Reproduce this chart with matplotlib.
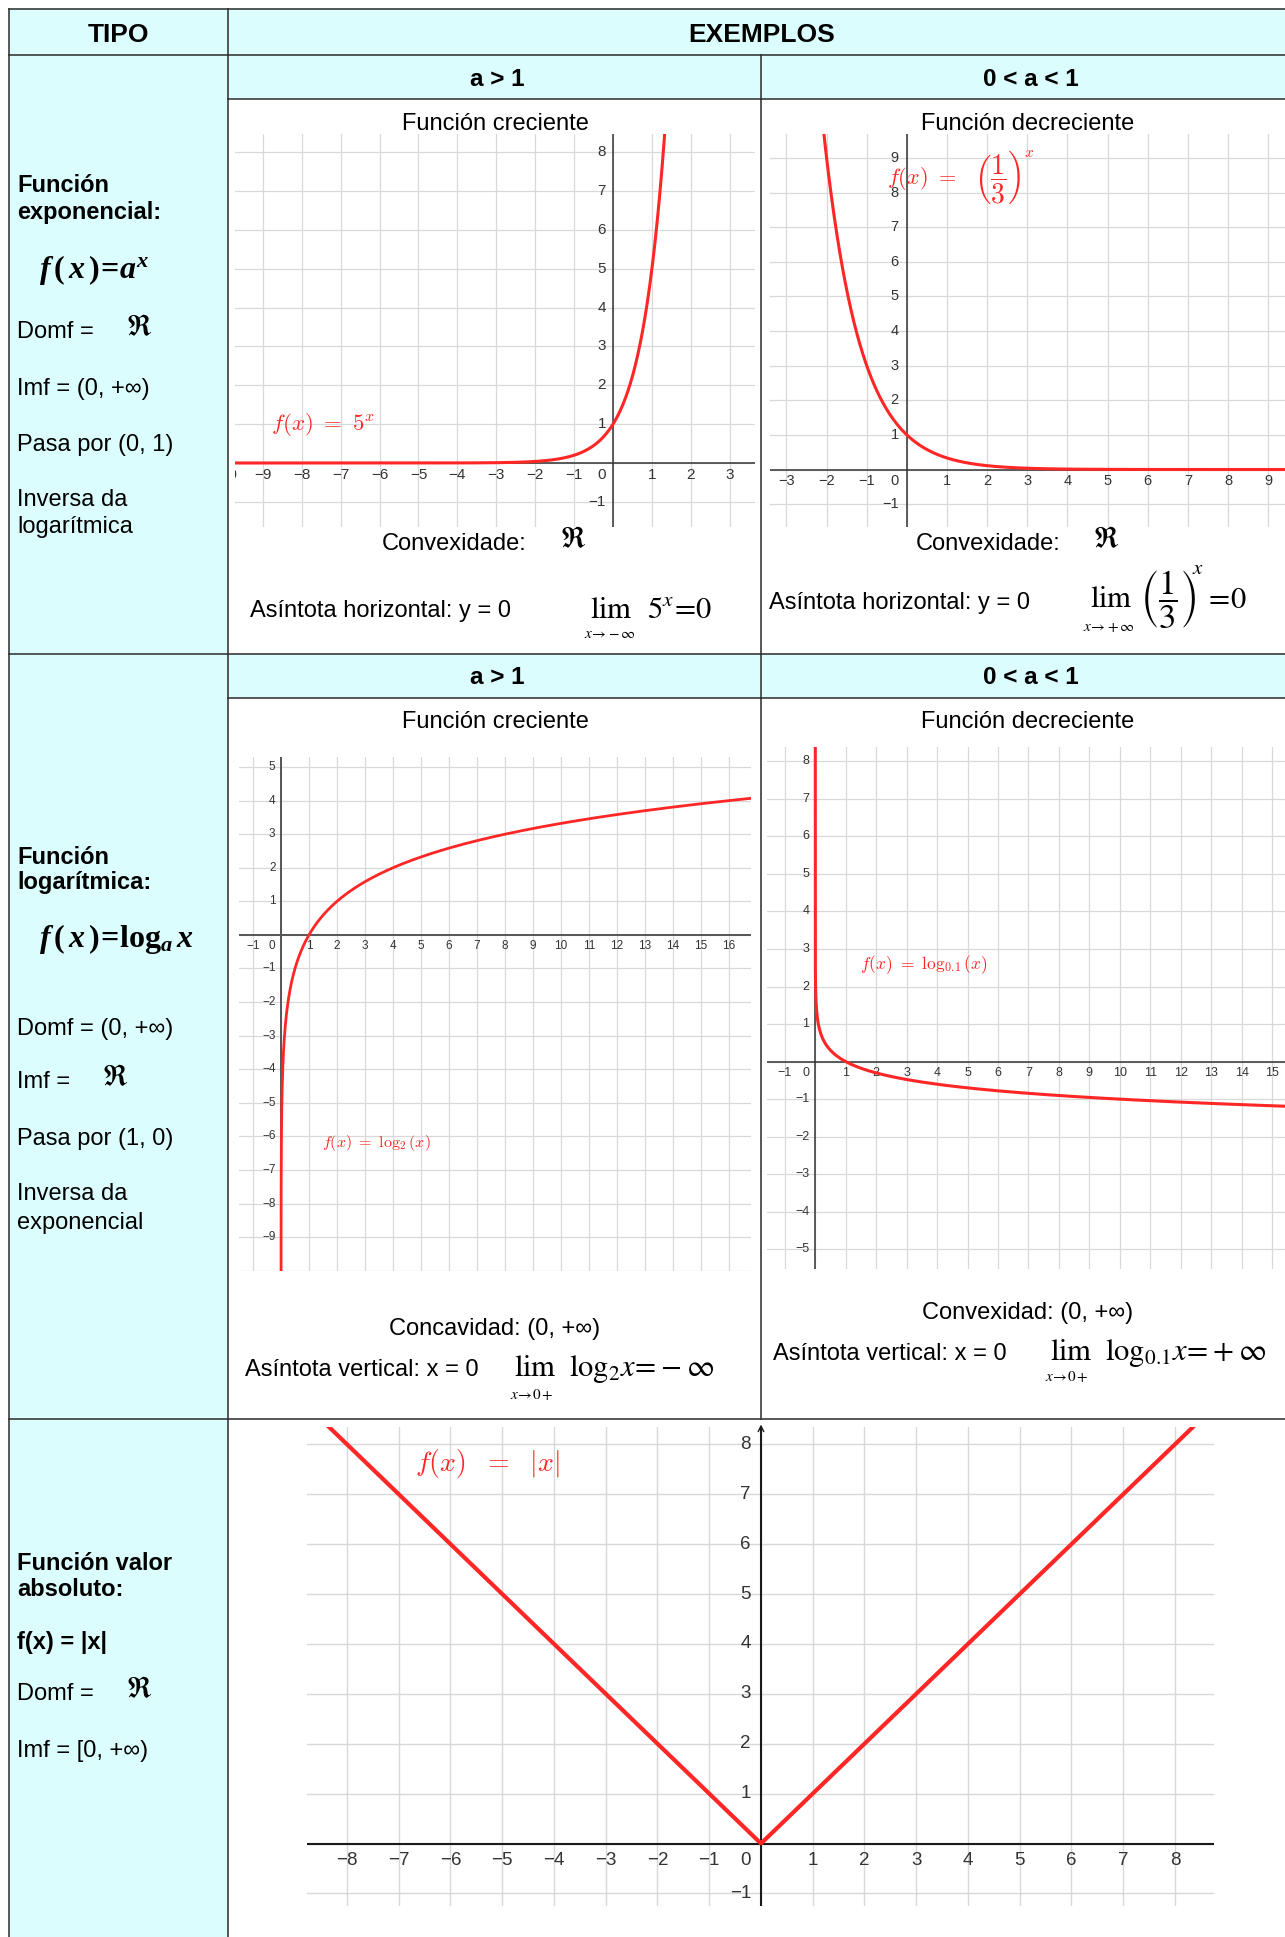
import numpy as np
import matplotlib
matplotlib.use('Agg')
import matplotlib.pyplot as plt
from matplotlib.lines import Line2D
from matplotlib.patches import Rectangle

# ---------------- data ----------------
header_labels = ["TIPO", "EXEMPLOS"]
condition_labels = ["a > 1", "0 < a < 1"]
trend_labels = ["Función creciente", "Función decreciente"]

exp_bases = [5, 1 / 3]          # f(x) = 5^x , f(x) = (1/3)^x
log_bases = [2, 0.1]            # f(x) = log2(x), f(x) = log0.1(x)

exp1_xticks = list(range(-10, 4))
exp1_yticks = list(range(-1, 9))
exp2_xticks = list(range(-3, 10))
exp2_yticks = list(range(-1, 10))
log1_xticks = list(range(-1, 17))
log1_yticks = list(range(-9, 6))
log2_xticks = list(range(-1, 16))
log2_yticks = list(range(-5, 9))
abs_xticks = list(range(-8, 9))
abs_yticks = list(range(-1, 9))

exp_info = ["Domf = ", "Imf = (0, +∞)", "Pasa por (0, 1)", "Inversa da\nlogarítmica"]
log_info = ["Domf = (0, +∞)", "Imf = ", "Pasa por (1, 0)", "Inversa da\nexponencial"]
abs_info = ["f(x) = |x|", "Domf = ", "Imf = [0, +∞)"]

# ---------------- layout ----------------
W, H, DPI = 1285, 1937, 100
SANS = ['Liberation Sans', 'DejaVu Sans']
plt.rcParams['font.family'] = SANS
plt.rcParams['mathtext.fontset'] = 'custom'
plt.rcParams['mathtext.rm'] = 'Liberation Serif:bold'
plt.rcParams['mathtext.it'] = 'Liberation Serif:italic:bold'
plt.rcParams['mathtext.bf'] = 'Liberation Serif:bold'

fig = plt.figure(figsize=(W / DPI, H / DPI), dpi=DPI)
fig.patch.set_facecolor('white')

RED = '#ff2626'
BG = '#dcfdfd'
LINE = '#2a2a2a'


def fx(x):
    return x / W


def fy(y):
    return 1 - y / H


def T(x, yc, s, size=17, weight='normal', ha='left', color='black', **kw):
    em = size * DPI / 72
    fig.text(fx(x), fy(yc + 0.36 * em), s, fontsize=size, fontweight=weight,
             ha=ha, va='baseline', color=color, **kw)


def M(x, y, s, size, ha='left', va='baseline', mf='stix', color='black'):
    fig.text(fx(x), fy(y), s, fontsize=size, ha=ha, va=va,
             math_fontfamily=mf, color=color)


def rect(x0, y0, x1, y1, color):
    fig.add_artist(Rectangle((fx(x0), fy(y1)), (x1 - x0) / W, (y1 - y0) / H,
                             transform=fig.transFigure, facecolor=color,
                             edgecolor='none', zorder=-5))


def hline(y, x0, x1, lw=1.1):
    fig.add_artist(Line2D([fx(x0), fx(x1)], [fy(y), fy(y)], transform=fig.transFigure,
                          color=LINE, lw=lw, zorder=5))


def vline(x, y0, y1, lw=1.1):
    fig.add_artist(Line2D([fx(x), fx(x)], [fy(y0), fy(y1)], transform=fig.transFigure,
                          color=LINE, lw=lw, zorder=5))


# table geometry (pixels)
L, C1, C2, R = 9, 228, 761, 1301
Y0, Y1, Y2, Y3, Y4, Y5 = 8.5, 55, 99, 653.5, 697.6, 1419

rect(L, Y0, R, Y1, BG)
rect(L, Y1, C1, H + 5, BG)
rect(C1, Y1, R, Y2, BG)
rect(C1, Y3, R, Y4, BG)

for y in (Y0, Y1, Y3, Y5):
    hline(y, L, R)
for y in (Y2, Y4):
    hline(y, C1, R)
vline(L, Y0, H + 5)
vline(C1, Y0, H + 5)
vline(C2, Y1, Y5)

# headers
T((L + C1) / 2, 32, header_labels[0], size=19, weight='bold', ha='center')
T(762, 32, header_labels[1], size=19, weight='bold', ha='center')
for yc in (77, 675.5):
    T((C1 + C2) / 2 + 3, yc, condition_labels[0], size=17.5, weight='bold', ha='center')
    T(1031, yc, condition_labels[1], size=17.5, weight='bold', ha='center')

# ---------------- left column texts ----------------
T(17, 184, "Función", weight='bold')
T(17, 211, "exponencial:", weight='bold')
M(39, 270, r'$f\,(\,x\,)\!=\!a^{x}$', 23, va='center', mf='custom')
T(17, 329, exp_info[0])
M(126, 327, r'$\Re$', 21, va='center')
T(17, 387, exp_info[1])
T(17, 442, exp_info[2])
T(17, 497, exp_info[3].split('\n')[0])
T(17, 525, exp_info[3].split('\n')[1])

T(17, 855, "Función", weight='bold')
T(17, 880, "logarítmica:", weight='bold')
M(39, 939, r'$f\,(\,x\,)\!=\!\mathrm{log}_{a}\,x$', 23, va='center', mf='custom')
T(17, 1026, log_info[0])
T(17, 1079, log_info[1])
M(102, 1077, r'$\Re$', 21, va='center')
T(17, 1137, log_info[2])
T(17, 1192, log_info[3].split('\n')[0])
T(17, 1220, log_info[3].split('\n')[1])

T(17, 1561, "Función valor", weight='bold')
T(17, 1587, "absoluto:", weight='bold')
T(17, 1640, abs_info[0], weight='bold')
T(17, 1691, abs_info[1])
M(126, 1689, r'$\Re$', 21, va='center')
T(17, 1749, abs_info[2])

# ---------------- cell texts ----------------
T(495, 122, trend_labels[0], ha='center')
T(1028, 122, trend_labels[1], ha='center')
T(382, 541.5, "Convexidade:")
M(560, 539, r'$\Re$', 21, va='center')
T(916, 541, "Convexidade:")
M(1093, 539, r'$\Re$', 21, va='center')
T(250, 609, "Asíntota horizontal: y = 0")
T(769, 600, "Asíntota horizontal: y = 0")

M(590, 618, r'$\mathrm{lim}$', 22)
M(647, 618, r'$5^{x}\!=\!0$', 22)
M(584, 634, r'$x\!\rightarrow\!-\infty$', 11, va='center')
M(1090, 607, r'$\mathrm{lim}$', 22)
M(1168, 599, r'$\left(\dfrac{1}{3}\right)$', 25, ha='center', va='center')
M(1192, 569, r'$x$', 15, va='center')
M(1204, 600, r'$=\!0$', 22, va='center')
M(1083, 627, r'$x\!\rightarrow\!+\infty$', 11, va='center')

T(495, 720, trend_labels[0], ha='center')
T(1028, 720, trend_labels[1], ha='center')
T(495, 1327, "Concavidad: (0, +∞)", ha='center')
T(1028, 1311, "Convexidad: (0, +∞)", ha='center')
T(245, 1368, "Asíntota vertical: x = 0")
T(773, 1351, "Asíntota vertical: x = 0")
M(514, 1376, r'$\mathrm{lim}$', 22)
M(569, 1376, r'$\mathrm{log}_{2}x\!=\!-\infty$', 22)
M(510, 1394, r'$x\!\rightarrow\!0+$', 11, va='center')
M(1050, 1360, r'$\mathrm{lim}$', 22)
M(1105, 1360, r'$\mathrm{log}_{0.1}x\!=\!+\infty$', 22)
M(1045, 1376, r'$x\!\rightarrow\!0+$', 11, va='center')


# ---------------- plots ----------------
def tick_text(v):
    return ('\u2212' + str(-v)) if v < 0 else str(v)


def draw_plot(box, xlim, ylim, xt, yt, fs, xoff, yoff, axc='#333333', axlw=1.1, glw=0.9):
    x0, y0, x1, y1 = box
    ax = fig.add_axes([fx(x0), fy(y1), (x1 - x0) / W, (y1 - y0) / H])
    ax.set_xlim(xlim)
    ax.set_ylim(ylim)
    ax.patch.set_visible(False)
    for s in ax.spines.values():
        s.set_visible(False)
    ax.set_xticks(np.arange(np.ceil(xlim[0]), np.floor(xlim[1]) + 1))
    ax.set_yticks(np.arange(np.ceil(ylim[0]), np.floor(ylim[1]) + 1))
    ax.tick_params(length=0, labelbottom=False, labelleft=False)
    ax.grid(True, color='#d8d8d8', lw=glw)
    ax.set_axisbelow(True)
    ax.axhline(0, color=axc, lw=axlw, zorder=2)
    ax.axvline(0, color=axc, lw=axlw, zorder=2)
    for v in xt:
        if v == 0:
            continue
        a = ax.annotate(tick_text(v), xy=(v, 0), xytext=(0, -xoff), textcoords='offset pixels',
                        ha='center', va='center', fontsize=fs, color='#333333',
                        annotation_clip=False)
        a.set_clip_on(True)
        a.set_clip_box(ax.bbox)
    for v in yt:
        if v == 0:
            continue
        a = ax.annotate(tick_text(v), xy=(0, v), xytext=(-yoff, 0), textcoords='offset pixels',
                        ha='right', va='center', fontsize=fs, color='#333333',
                        annotation_clip=False)
        a.set_clip_on(True)
        a.set_clip_box(ax.bbox)
    ax.annotate('0', xy=(0, 0), xytext=(-yoff, -xoff), textcoords='offset pixels',
                ha='right', va='center', fontsize=fs, color='#333333')
    return ax


# exponential a > 1
xl, yl = (-9.717, 3.650), (-1.648, 8.471)
ax1 = draw_plot((235, 134, 755, 527), xl, yl, exp1_xticks, exp1_yticks, 11, 12.5, 7)
xs = np.linspace(xl[0], xl[1], 1500)
ax1.plot(xs, exp_bases[0] ** xs, color=RED, lw=2.2, zorder=3)
M(271, 425, r'$f(x)\ =\ 5^{x}$', 16.5, va='center', mf='cm', color=RED)

# exponential 0 < a < 1
xl, yl = (-3.41, 9.82), (-1.66, 9.69)
ax2 = draw_plot((770, 134, 1301, 527), xl, yl, exp2_xticks, exp2_yticks, 10.5, 11, 8)
xs = np.linspace(xl[0], xl[1], 1500)
ax2.plot(xs, exp_bases[1] ** xs, color=RED, lw=2.2, zorder=3)
M(887, 178, r'$f(x)\ =$', 16, va='center', mf='cm', color=RED)
M(998, 177, r'$\left(\dfrac{1}{3}\right)$', 20, ha='center', va='center', mf='cm', color=RED)
M(1024, 153, r'$x$', 11, va='center', mf='cm', color=RED)

# logarithm a > 1
xl, yl = (-1.5, 16.775), (-10.01, 5.299)
ax3 = draw_plot((239, 757, 750.7, 1271), xl, yl, log1_xticks, log1_yticks, 8.5, 11, 5.5,
                axc='#555555', axlw=1.4)
xs = np.geomspace(1e-4, xl[1], 3000)
ax3.plot(xs, np.log(xs) / np.log(log_bases[0]), color=RED, lw=2.0, zorder=3)
M(322, 1143, r'$f(x)\ =\ \log_{2}(x)$', 11.5, va='center', mf='cm', color=RED)

# logarithm 0 < a < 1
xl, yl = (-1.572, 15.95), (-5.523, 8.378)
ax4 = draw_plot((767.4, 747, 1301, 1269), xl, yl, log2_xticks, log2_yticks, 9, 11.5, 6)
xs = np.geomspace(1e-10, xl[1], 3000)
ax4.plot(xs, np.log(xs) / np.log(log_bases[1]), color=RED, lw=2.2, zorder=3)
M(860, 965, r'$f(x)\ =\ \log_{0.1}(x)$', 12.5, va='center', mf='cm', color=RED)

# absolute value
xl, yl = (-8.765, 8.754), (-1.252, 8.353)
ax5 = draw_plot((307.4, 1426.7, 1214, 1906), xl, yl, abs_xticks, abs_yticks, 13.5, 17, 10,
                axc='#1a1a1a', axlw=1.5, glw=1.0)
xs = np.linspace(xl[0], xl[1], 1001)
ax5.plot(xs, np.abs(xs), color=RED, lw=3.0, zorder=3)
ax5.annotate('', xy=(0, yl[1] + 0.1), xytext=(0, yl[1] - 0.3),
             arrowprops=dict(arrowstyle='->', color='#1a1a1a', lw=1.0), annotation_clip=False)
M(415, 1463, r'$f(x)\ \ =\ \ |x|$', 20, va='center', mf='cm', color=RED)

fig.savefig('out.png', dpi=DPI)
